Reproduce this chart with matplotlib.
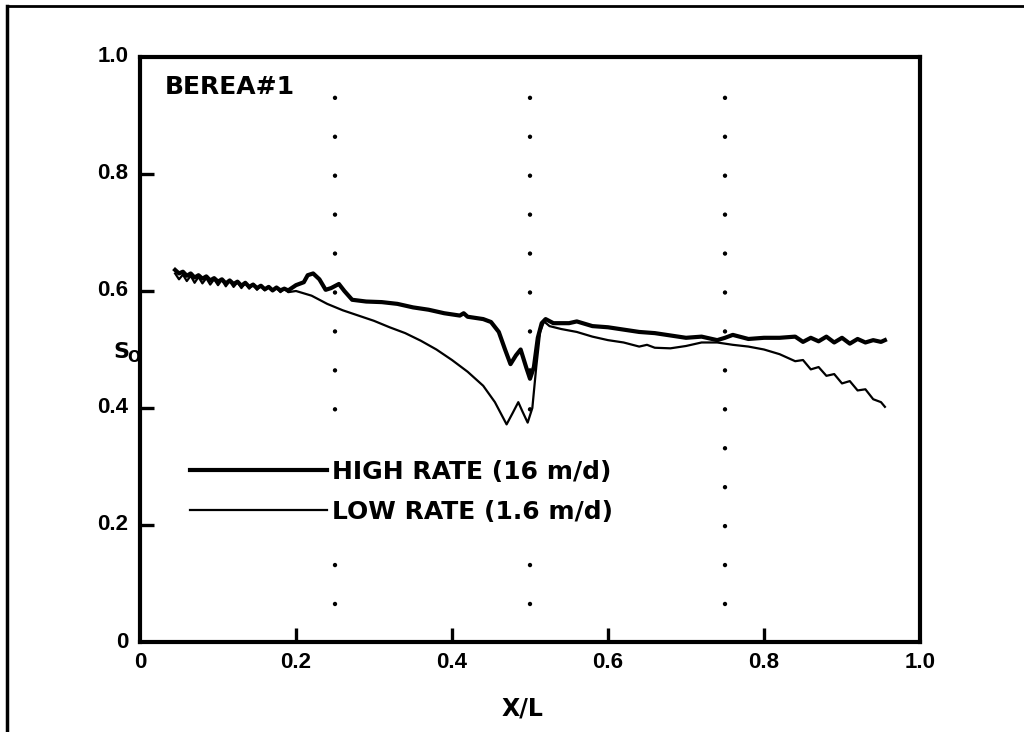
import matplotlib
matplotlib.use("Agg")
import matplotlib.pyplot as plt
from matplotlib.lines import Line2D

FONT = "Liberation Sans"
WFONT = "DejaVu Sans"

# HIGH RATE (16 m/d)
high_x = [0.045, 0.05, 0.055, 0.06, 0.065, 0.07, 0.075, 0.08, 0.085, 0.09, 0.095, 0.10,
          0.105, 0.11, 0.115, 0.12, 0.125, 0.13, 0.135, 0.14, 0.145, 0.15, 0.155, 0.16,
          0.165, 0.17, 0.175, 0.18, 0.185, 0.19, 0.20, 0.21, 0.215, 0.222, 0.23, 0.238,
          0.245, 0.255, 0.262, 0.272, 0.29, 0.31, 0.33, 0.35, 0.37, 0.39, 0.41, 0.415,
          0.42, 0.44, 0.45, 0.46, 0.468, 0.475, 0.482, 0.488, 0.495, 0.50, 0.505, 0.51,
          0.515, 0.52, 0.53, 0.55, 0.56, 0.58, 0.60, 0.62, 0.64, 0.66, 0.68, 0.70, 0.72,
          0.74, 0.75, 0.76, 0.78, 0.80, 0.82, 0.84, 0.85, 0.86, 0.87, 0.88, 0.89, 0.90,
          0.91, 0.92, 0.93, 0.94, 0.95, 0.955]
high_y = [0.636, 0.630, 0.633, 0.626, 0.630, 0.623, 0.627, 0.621, 0.625, 0.618, 0.622, 0.616,
          0.620, 0.613, 0.618, 0.612, 0.616, 0.609, 0.614, 0.607, 0.611, 0.605, 0.609, 0.603,
          0.607, 0.601, 0.606, 0.601, 0.604, 0.601, 0.610, 0.615, 0.627, 0.630, 0.620, 0.602,
          0.605, 0.612, 0.600, 0.585, 0.582, 0.581, 0.578, 0.572, 0.568, 0.562, 0.558, 0.562,
          0.556, 0.552, 0.547, 0.530, 0.500, 0.475, 0.490, 0.500, 0.470, 0.450, 0.470, 0.520,
          0.545, 0.552, 0.545, 0.545, 0.548, 0.540, 0.538, 0.534, 0.530, 0.528, 0.524, 0.520, 0.522,
          0.516, 0.520, 0.525, 0.518, 0.520, 0.520, 0.522, 0.513, 0.520, 0.514, 0.522, 0.512, 0.520,
          0.510, 0.518, 0.512, 0.516, 0.513, 0.516]

# LOW RATE (1.6 m/d)
low_x = [0.045, 0.05, 0.055, 0.06, 0.065, 0.07, 0.075, 0.08, 0.085, 0.09, 0.095, 0.10,
         0.105, 0.11, 0.115, 0.12, 0.125, 0.13, 0.135, 0.14, 0.145, 0.15, 0.155, 0.16,
         0.165, 0.17, 0.175, 0.18, 0.185, 0.19, 0.20, 0.22, 0.24, 0.26, 0.28, 0.30, 0.32,
         0.34, 0.36, 0.38, 0.40, 0.42, 0.44, 0.455, 0.47, 0.478, 0.485, 0.49, 0.497, 0.503,
         0.508, 0.513, 0.518, 0.525, 0.54, 0.56, 0.58, 0.60, 0.62, 0.64, 0.65, 0.66, 0.68,
         0.70, 0.72, 0.74, 0.76, 0.78, 0.80, 0.82, 0.84, 0.85, 0.86, 0.87, 0.88, 0.89, 0.90,
         0.91, 0.92, 0.93, 0.94, 0.95, 0.955]
low_y = [0.630, 0.620, 0.628, 0.617, 0.626, 0.614, 0.624, 0.613, 0.622, 0.611, 0.620, 0.610,
         0.619, 0.608, 0.617, 0.607, 0.615, 0.605, 0.614, 0.604, 0.612, 0.602, 0.610, 0.601,
         0.608, 0.600, 0.606, 0.598, 0.604, 0.598, 0.600, 0.592, 0.578, 0.567, 0.558, 0.549, 0.538,
         0.528, 0.515, 0.500, 0.482, 0.462, 0.438, 0.410, 0.372, 0.392, 0.410, 0.395, 0.375, 0.400,
         0.470, 0.530, 0.548, 0.540, 0.535, 0.530, 0.522, 0.516, 0.512, 0.505, 0.508, 0.503, 0.502,
         0.506, 0.512, 0.512, 0.508, 0.505, 0.500, 0.492, 0.480, 0.482, 0.466, 0.470, 0.455, 0.458, 0.442,
         0.446, 0.430, 0.432, 0.415, 0.410, 0.402]

x_ticks = [0.2, 0.4, 0.6, 0.8]
y_ticks = [0.2, 0.4, 0.6, 0.8]
label_pos = [0, 0.2, 0.4, 0.6, 0.8, 1.0]
x_tick_labels = ["0", "0.2", "0.4", "0.6", "0.8", "1.0"]
y_tick_labels = ["0", "0.2", "0.4", "0.6", "0.8", "1.0"]
guide_x = [0.25, 0.5, 0.75]

fig = plt.figure(figsize=(10.24, 7.32), dpi=100)
ax = fig.add_axes([140/1024, (732-642)/732, 780/1024, 585/732])
ax.set_xlim(0, 1.0)
ax.set_ylim(0, 1.0)

for s in ax.spines.values():
    s.set_linewidth(3)

# dotted guide lines
for gx in guide_x:
    ax.axvline(gx, ymin=0.065, ymax=0.94, color="black", lw=3.2,
               linestyle=(0, (0.01, 28/3.2)), dash_capstyle="round", zorder=1)

ax.plot(high_x, high_y, color="black", lw=3.0, solid_joinstyle="round", zorder=3)
ax.plot(low_x, low_y, color="black", lw=1.6, solid_joinstyle="round", zorder=3)

ax.set_xticks(x_ticks)
ax.set_yticks(y_ticks)
ax.set_xticklabels([])
ax.set_yticklabels([])
ax.tick_params(direction="in", length=10, width=2.4, top=False, right=False)

for v, t in zip(label_pos, x_tick_labels):
    ax.text(v, -0.017, t, ha="center", va="top", fontsize=16, fontweight="bold",
            family=FONT, transform=ax.transAxes)
for v, t in zip(label_pos, y_tick_labels):
    ax.text(-0.015, v, t, ha="right", va="center", fontsize=16, fontweight="bold",
            family=FONT, transform=ax.transAxes)

ax.text(0.49, -0.094, "X/L", ha="center", va="top", fontsize=17, fontweight="bold",
        family=WFONT, transform=ax.transAxes)

# S_O label
fig.text(113/1024, 1-352/732, "S", ha="left", va="center", fontsize=16,
         fontweight="bold", family=WFONT)
fig.text(127/1024, 1-358/732, "O", ha="left", va="center", fontsize=11,
         fontweight="bold", family=WFONT)

ax.text(0.032, 0.969, "BEREA#1", ha="left", va="top", fontsize=18, fontweight="bold",
        family=WFONT, transform=ax.transAxes)

handles = [Line2D([], [], color="black", lw=3.0), Line2D([], [], color="black", lw=1.6)]
leg = ax.legend(handles, ["HIGH RATE (16 m/d)", "LOW RATE (1.6 m/d)"],
                loc="upper left", bbox_to_anchor=(0.046, 0.335), frameon=True,
                fancybox=False, framealpha=1.0, edgecolor="white", facecolor="white",
                handlelength=5.5, handletextpad=0.2, labelspacing=0.64, borderpad=0.55,
                borderaxespad=0.0, prop={"family": WFONT, "weight": "bold", "size": 18})
leg.get_frame().set_linewidth(0)
leg.set_zorder(10)

# outer border (top and left)
fig.add_artist(Line2D([7/1024, 1.0], [1-6/732, 1-6/732], color="black", lw=2,
                      transform=fig.transFigure))
fig.add_artist(Line2D([7/1024, 7/1024], [0, 1-6/732], color="black", lw=2.5,
                      transform=fig.transFigure))

fig.savefig("out.png", dpi=100, facecolor="white")
